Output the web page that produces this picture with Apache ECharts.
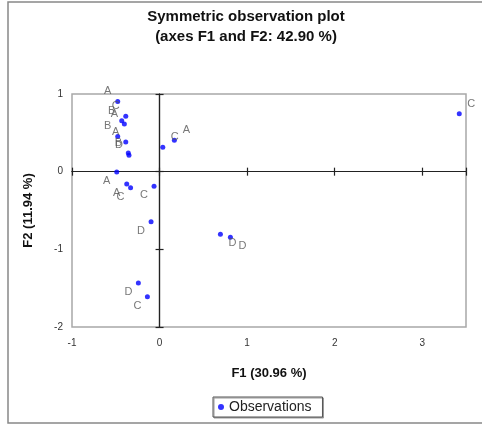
<!DOCTYPE html>
<html>
<head>
<meta charset="utf-8">
<script src="https://cdn.jsdelivr.net/npm/echarts@6/dist/echarts.min.js"></script>
<style>html,body{margin:0;padding:0;background:#fff;}#c{width:482px;height:429px;}</style>
</head>
<body>
<div id="c"></div>
<script>
// Observation labels (category of each observation)
const obsLabels = ['A','C','B','A','B','A','B','D','C','A','A','A','C','C','D','D','D','D','C','C'];
// F1 coordinates
const f1 = [-0.478,-0.386,-0.432,-0.402,-0.478,-0.386,-0.357,-0.349,0.037,0.169,-0.489,-0.375,-0.331,-0.063,-0.097,0.695,0.809,-0.242,-0.139,3.423];
// F2 coordinates
const f2 = [0.905,0.712,0.656,0.614,0.454,0.382,0.241,0.210,0.313,0.403,-0.005,-0.158,-0.206,-0.189,-0.644,-0.807,-0.846,-1.432,-1.609,0.746];
const xTicks = [-1,0,1,2,3];
const yTicks = [-2,-1,0,1];
const titleLines = ['Symmetric observation plot','(axes F1 and F2: 42.90 %)'];
const xName = 'F1 (30.96 %)';
const yName = 'F2 (11.94 %)';
const seriesName = 'Observations';

const chart = echarts.init(document.getElementById('c'), null, {renderer:'canvas'});
const FONT = 'Liberation Sans, Arial, sans-serif';
const SYM = 5;

const data = f1.map((x,i)=>{
  const y = f2[i];
  const dx = x < 0 ? -10 : 12;
  const dy = y < 0 ? 9 : -10;
  return {value:[x,y], name:obsLabels[i],
    label:{position:[SYM/2 + dx, SYM/2 + dy], align:'center', verticalAlign:'middle'}};
});

const baseX = {type:'value', min:-1, max:3.5, interval:1, splitLine:{show:false}};
const baseY = {type:'value', min:-2, max:1, interval:1, splitLine:{show:false}};
const zeroLine = {show:true, lineStyle:{color:'#222', width:1.2}};
const zeroTick = {show:true, length:4, lineStyle:{color:'#222', width:1.2}};

chart.setOption({
  animation:false,
  backgroundColor:'#fff',
  grid:{left:72, top:94, right:16, bottom:102, show:true, borderColor:'#a8a8a8', borderWidth:1.5},
  graphic:[
    {type:'rect', shape:{x:8,y:2,width:490,height:421}, style:{fill:null, stroke:'#888', lineWidth:1.5}, silent:true},
    {type:'text', x:246, y:17, style:{text:titleLines[0], font:'bold 15px '+FONT, fill:'#111', align:'center', verticalAlign:'middle'}},
    {type:'text', x:246, y:37, style:{text:titleLines[1], font:'bold 15px '+FONT, fill:'#111', align:'center', verticalAlign:'middle'}}
  ],
  legend:{
    data:[seriesName], left:213, top:397, orient:'horizontal',
    icon:'circle', itemWidth:6, itemHeight:6, itemGap:5,
    padding:[3,11,3,5], borderColor:'#555', borderWidth:1, backgroundColor:'#fff',
    shadowColor:'#999', shadowOffsetX:1, shadowOffsetY:1, shadowBlur:0,
    textStyle:{fontFamily:FONT, fontSize:14, color:'#222'}
  },
  xAxis:[
    Object.assign({}, baseX, {
      position:'bottom', axisLine:{show:false, onZero:false}, axisTick:{show:false},
      axisLabel:{show:true, margin:11, fontFamily:FONT, fontSize:10, color:'#333', showMaxLabel:false,
        formatter:v=> xTicks.includes(v) ? String(v) : ''},
      name:xName, nameLocation:'middle', nameGap:40,
      nameTextStyle:{fontFamily:FONT, fontSize:13, fontWeight:'bold', color:'#111'}
    }),
    Object.assign({}, baseX, {position:'bottom', axisLine:Object.assign({onZero:true},zeroLine), axisTick:zeroTick, axisLabel:{show:false}}),
    Object.assign({}, baseX, {position:'top', axisLine:Object.assign({onZero:true},zeroLine), axisTick:zeroTick, axisLabel:{show:false}})
  ],
  yAxis:[
    Object.assign({}, baseY, {
      position:'left', axisLine:{show:false, onZero:false}, axisTick:{show:false},
      axisLabel:{show:true, margin:9, fontFamily:FONT, fontSize:10, color:'#333',
        formatter:v=> yTicks.includes(v) ? String(v) : ''},
      name:yName, nameLocation:'middle', nameGap:37,
      nameTextStyle:{fontFamily:FONT, fontSize:13, fontWeight:'bold', color:'#111'}
    }),
    Object.assign({}, baseY, {position:'left', axisLine:Object.assign({onZero:true},zeroLine), axisTick:zeroTick, axisLabel:{show:false}}),
    Object.assign({}, baseY, {position:'right', axisLine:Object.assign({onZero:true},zeroLine), axisTick:zeroTick, axisLabel:{show:false}})
  ],
  series:[{
    name:seriesName, type:'scatter', xAxisIndex:0, yAxisIndex:0,
    symbol:'circle', symbolSize:SYM,
    itemStyle:{color:'#0000ff'},
    label:{show:true, formatter:p=>p.name, fontFamily:FONT, fontSize:11, color:'#555'},
    labelLayout:{hideOverlap:false},
    data:data
  }]
});
</script>
</body>
</html>
